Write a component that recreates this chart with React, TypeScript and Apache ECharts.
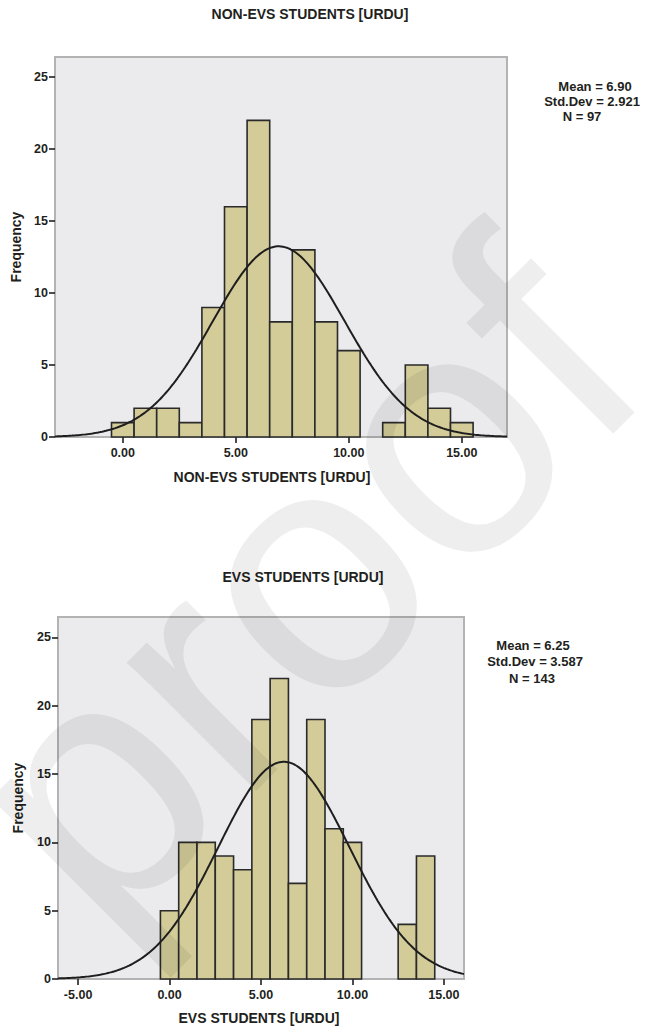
import React, { useEffect, useRef } from "react";
import * as echarts from "echarts";

// ---- data ----
const nonEvsBins = [0, 1, 2, 3, 4, 5, 6, 7, 8, 9, 10, 11, 12, 13, 14, 15];
const nonEvsCounts = [1, 2, 2, 1, 9, 16, 22, 8, 13, 8, 6, 0, 1, 5, 2, 1];
const evsBins = [0, 1, 2, 3, 4, 5, 6, 7, 8, 9, 10, 11, 12, 13, 14];
const evsCounts = [5, 10, 10, 9, 8, 19, 22, 7, 19, 11, 10, 0, 0, 4, 9];

const nonEvsMean = 6.9;
const nonEvsSd = 2.921;
const nonEvsN = 97;
const evsMean = 6.25;
const evsSd = 3.587;
const evsN = 143;

const nonEvsXTicks = [0, 5, 10, 15];
const evsXTicks = [-5, 0, 5, 10, 15];
const yTicks = [0, 5, 10, 15, 20, 25];

const nonEvsTitle = "NON-EVS STUDENTS [URDU]";
const evsTitle = "EVS STUDENTS [URDU]";

// ---- styles ----
const FONT = "'Liberation Sans', Arial, Helvetica, sans-serif";
const TXT = "#231F20";
const BAR_FILL = "#D3CB98";
const BAR_STROKE = "#2A2A2A";

function normalCurve(mean: number, sd: number, n: number, lo: number, hi: number) {
  const pts: number[][] = [];
  const k = n / (sd * Math.sqrt(2 * Math.PI));
  const steps = 240;
  for (let i = 0; i <= steps; i++) {
    const x = lo + ((hi - lo) * i) / steps;
    const z = (x - mean) / sd;
    pts.push([x, k * Math.exp(-0.5 * z * z)]);
  }
  return pts;
}

const renderBar = (params: any, api: any) => {
  const x = api.value(0);
  const h = api.value(1);
  const p1 = api.coord([x - 0.5, h]);
  const p2 = api.coord([x + 0.5, 0]);
  return {
    type: "rect",
    shape: { x: p1[0], y: p1[1], width: p2[0] - p1[0], height: p2[1] - p1[1] },
    style: { fill: BAR_FILL, stroke: BAR_STROKE, lineWidth: 1.6 },
  };
};

function xAxisCfg(grid: number, min: number, max: number, ticks: number[], name: string, gap: number, pad: number[]) {
  return {
    gridIndex: grid,
    type: "value",
    min,
    max,
    axisLine: { show: false, onZero: false },
    splitLine: { show: false },
    axisTick: { show: true, customValues: ticks, length: 6, lineStyle: { color: TXT, width: 1.6 } },
    axisLabel: {
      customValues: ticks,
      formatter: (v: number) => v.toFixed(2),
      fontFamily: FONT,
      fontWeight: "bold",
      fontSize: 12.5,
      color: TXT,
      margin: 9,
    },
    name,
    nameLocation: "middle",
    nameGap: gap,
    nameTextStyle: { fontFamily: FONT, fontWeight: "bold", fontSize: 14, color: TXT, padding: pad },
  };
}

function yAxisCfg(grid: number, max: number, gap: number) {
  return {
    gridIndex: grid,
    type: "value",
    min: 0,
    max,
    axisLine: { show: false, onZero: false },
    splitLine: { show: false },
    axisTick: { show: true, customValues: yTicks, length: 6, lineStyle: { color: TXT, width: 1.6 } },
    axisLabel: {
      customValues: yTicks,
      fontFamily: FONT,
      fontWeight: "bold",
      fontSize: 12.5,
      color: TXT,
      margin: 7,
    },
    name: "Frequency",
    nameLocation: "middle",
    nameRotate: 90,
    nameGap: gap,
    nameTextStyle: { fontFamily: FONT, fontWeight: "bold", fontSize: 14, color: TXT },
  };
}

function statText(text: string, x: number, y: number) {
  return {
    type: "text",
    x,
    y,
    style: {
      text,
      fill: TXT,
      font: `bold 13px ${FONT}`,
      align: "center",
      verticalAlign: "middle",
    },
  };
}

export default function App() {
  const ref = useRef<HTMLDivElement>(null);
  useEffect(() => {
    if (!ref.current) return;
    const chart = echarts.init(ref.current, undefined, { renderer: "svg" });

    const topMin = -3.0, topMax = 17.0;
    const botMin = -6.1, botMax = 16.1;

    chart.setOption({
      animation: false,
      backgroundColor: "#FFFFFF",
      grid: [
        { left: 55, top: 57, width: 452, height: 380, show: true, backgroundColor: "#EBEBEE", borderColor: "#B3B3B3", borderWidth: 2 },
        { left: 58, top: 617, width: 406, height: 362, show: true, backgroundColor: "#EBEBEE", borderColor: "#B3B3B3", borderWidth: 2 },
      ],
      xAxis: [
        xAxisCfg(0, topMin, topMax, nonEvsXTicks, nonEvsTitle, 33, [0, 18, 0, 0]),
        xAxisCfg(1, botMin, botMax, evsXTicks, evsTitle, 32, [0, 4, 0, 0]),
      ],
      yAxis: [yAxisCfg(0, 26.4, 30), yAxisCfg(1, 26.5, 33)],
      series: [
        {
          type: "custom",
          xAxisIndex: 0,
          yAxisIndex: 0,
          renderItem: renderBar,
          encode: { x: 0, y: 1 },
          data: nonEvsBins.map((b, i) => [b, nonEvsCounts[i]]).filter((d) => d[1] > 0),
          z: 2,
        },
        {
          type: "line",
          xAxisIndex: 0,
          yAxisIndex: 0,
          showSymbol: false,
          symbol: "none",
          data: normalCurve(nonEvsMean, nonEvsSd, nonEvsN, topMin, topMax),
          lineStyle: { color: "#1E1E1E", width: 2 },
          z: 3,
        },
        {
          type: "custom",
          xAxisIndex: 1,
          yAxisIndex: 1,
          renderItem: renderBar,
          encode: { x: 0, y: 1 },
          data: evsBins.map((b, i) => [b, evsCounts[i]]).filter((d) => d[1] > 0),
          z: 2,
        },
        {
          type: "line",
          xAxisIndex: 1,
          yAxisIndex: 1,
          showSymbol: false,
          symbol: "none",
          data: normalCurve(evsMean, evsSd, evsN, botMin, botMax),
          lineStyle: { color: "#1E1E1E", width: 2 },
          z: 3,
        },
      ],
      graphic: [
        {
          type: "text",
          x: 310,
          y: 14,
          style: { text: nonEvsTitle, fill: TXT, font: `bold 14px ${FONT}`, align: "center", verticalAlign: "middle" },
        },
        {
          type: "text",
          x: 303,
          y: 577,
          style: { text: evsTitle, fill: TXT, font: `bold 14px ${FONT}`, align: "center", verticalAlign: "middle" },
        },
        statText(`Mean = ${nonEvsMean.toFixed(2)}`, 595, 86),
        statText(`Std.Dev = ${nonEvsSd.toFixed(3)}`, 592, 101),
        statText(`N = ${nonEvsN}`, 582, 116),
        statText(`Mean = ${evsMean.toFixed(2)}`, 533, 645),
        statText(`Std.Dev = ${evsSd.toFixed(3)}`, 535, 661.5),
        statText(`N = ${evsN}`, 532, 678),
        {
          type: "text",
          x: 297,
          y: 581,
          rotation: Math.PI / 4,
          z: 100,
          silent: true,
          style: {
            text: "proof",
            fill: "rgba(0,0,0,0.065)",
            font: `345px ${FONT}`,
            align: "center",
            verticalAlign: "middle",
          },
        },
      ],
    });
    return () => chart.dispose();
  }, []);

  return (
    <div
      ref={ref}
      style={{ position: "absolute", left: 0, top: 0, width: 646, height: 1032 }}
    />
  );
}
